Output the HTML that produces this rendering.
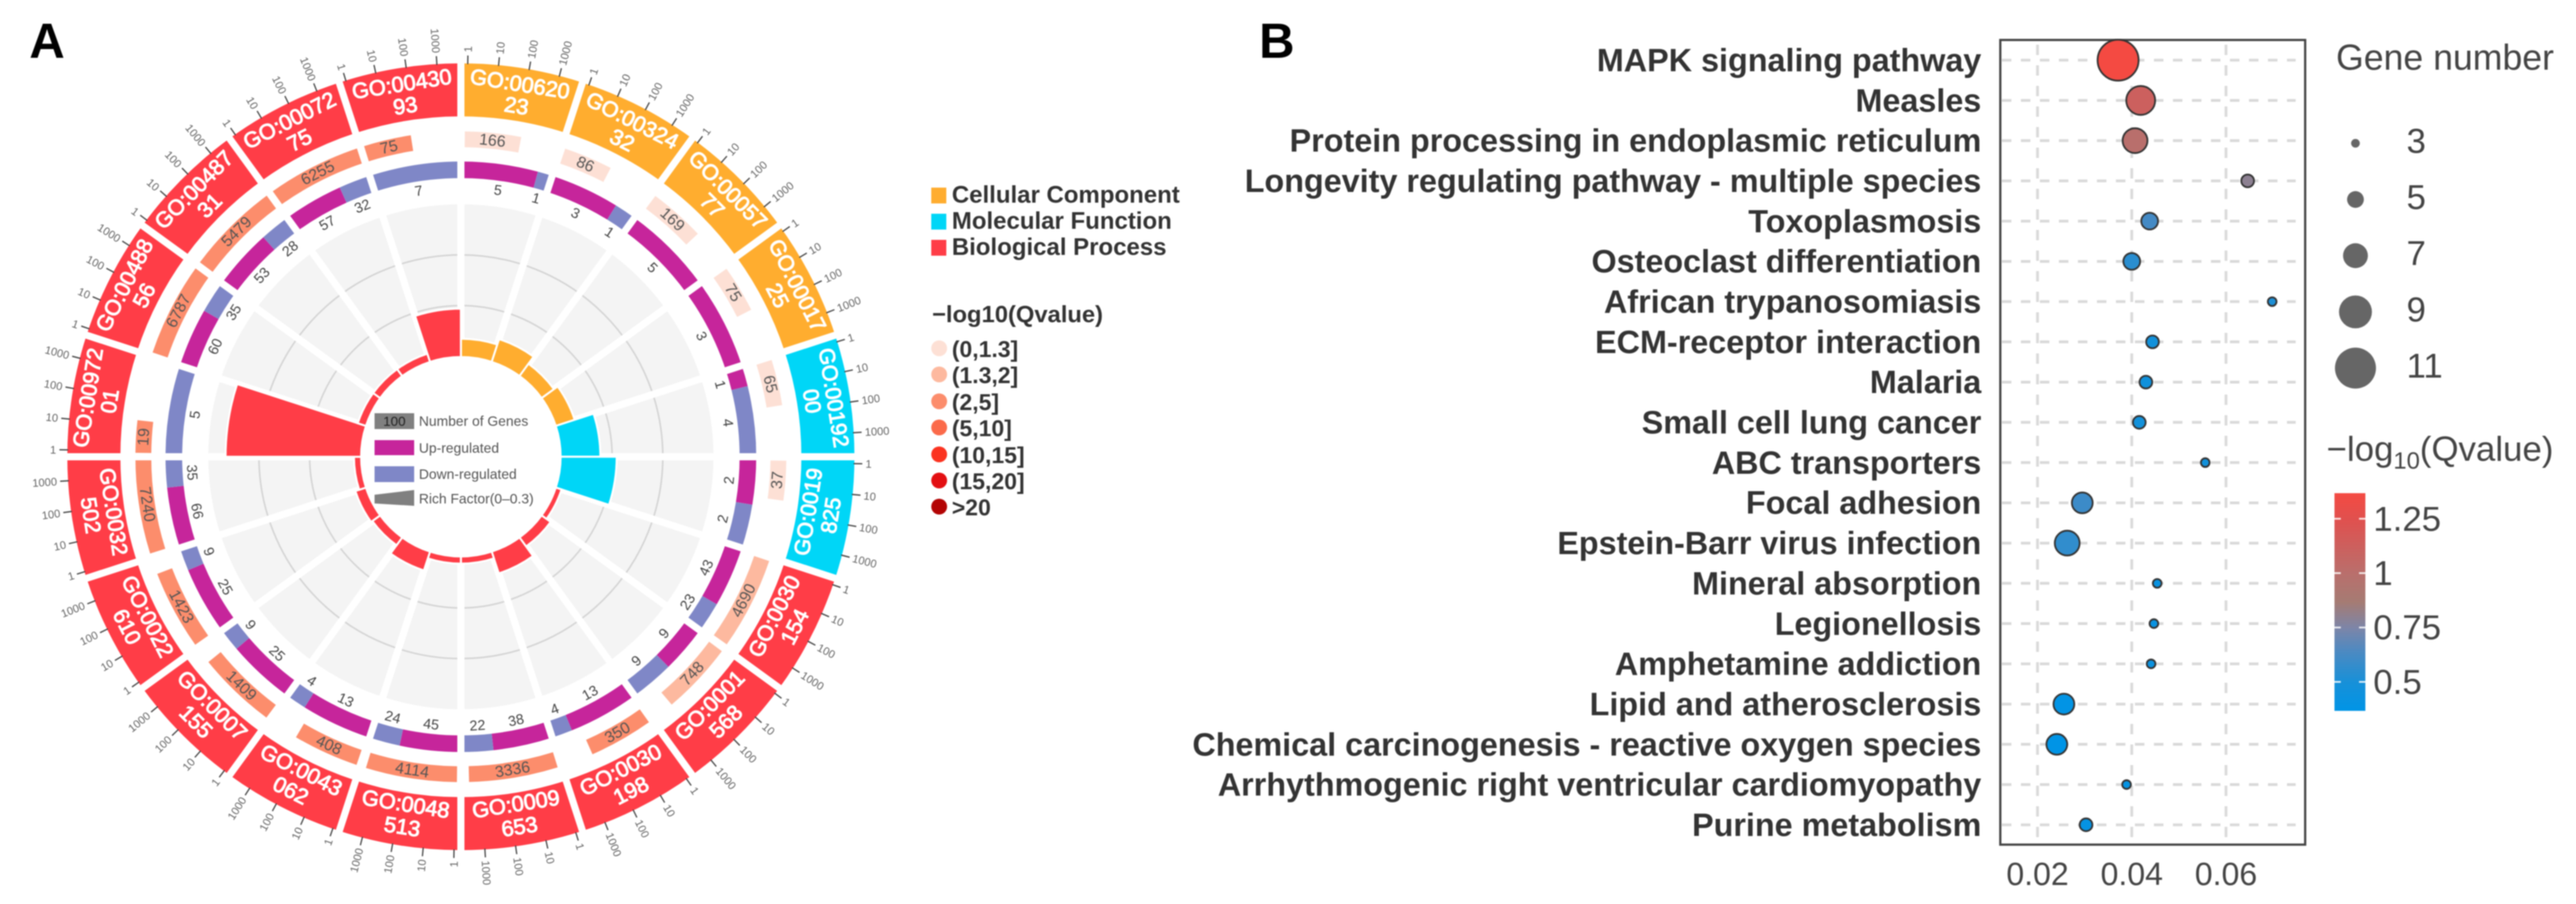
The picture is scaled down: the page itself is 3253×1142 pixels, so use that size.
<!DOCTYPE html>
<html lang="en">
<head>
<meta charset="utf-8">
<title>GO circle plot and KEGG bubble chart</title>
<style>
html,body{margin:0;padding:0;background:#fff;}
svg{display:block;filter:blur(0.9px);}
text{font-family:"Liberation Sans",sans-serif;}
</style>
</head>
<body>
<svg id="fig" xmlns="http://www.w3.org/2000/svg" width="3253" height="1142" viewBox="0 0 3253 1142">
  <defs>
    <linearGradient id="cbGrad" x1="0" y1="1" x2="0" y2="0"></linearGradient>
  </defs>
  <rect x="0" y="0" width="3253" height="1142" fill="#fff"/>
  <text x="37" y="73" font-size="62" font-weight="700" fill="#000">A</text>
  <text x="1590" y="73" font-size="62" font-weight="700" fill="#000">B</text>

  <g id="circle"></g>

  <g>
    <rect x="473" y="522" width="50" height="20" fill="#808080"/>
    <text x="498" y="538" font-size="17" text-anchor="middle" fill="#222">100</text>
    <text x="529" y="538" font-size="17.5" fill="#555">Number of Genes</text>
    <rect x="473" y="556" width="50" height="19" fill="#c6259b"/>
    <text x="529" y="572" font-size="17.5" fill="#555">Up-regulated</text>
    <rect x="473" y="589" width="50" height="20" fill="#7f87c7"/>
    <text x="529" y="605" font-size="17.5" fill="#555">Down-regulated</text>
    <polygon points="473,625 523,619 523,639 473,636" fill="#808080"/>
    <text x="529" y="636" font-size="17.5" fill="#555">Rich Factor(0–0.3)</text>
  </g>

  <g>
    <rect x="1176" y="237" width="19" height="20" fill="#ffad2f"/>
    <text x="1202" y="256" font-size="30.3" font-weight="700" fill="#333">Cellular Component</text>
    <rect x="1176" y="270" width="19" height="20" fill="#00d6f7"/>
    <text x="1202" y="289" font-size="30.3" font-weight="700" fill="#333">Molecular Function</text>
    <rect x="1176" y="303" width="19" height="20" fill="#ff3d47"/>
    <text x="1202" y="322" font-size="30.3" font-weight="700" fill="#333">Biological Process</text>
  </g>

  <g>
    <text x="1177" y="407" font-size="30" font-weight="700" fill="#333">−log10(Qvalue)</text>
    <circle cx="1186" cy="440" r="10" fill="#fde0d5"/>
    <text x="1202" y="451" font-size="29" font-weight="700" fill="#333">(0,1.3]</text>
    <circle cx="1186" cy="473" r="10" fill="#fdb99f"/>
    <text x="1202" y="484" font-size="29" font-weight="700" fill="#333">(1.3,2]</text>
    <circle cx="1186" cy="507" r="10" fill="#fc8d6c"/>
    <text x="1202" y="518" font-size="29" font-weight="700" fill="#333">(2,5]</text>
    <circle cx="1186" cy="540" r="10" fill="#fb6a4a"/>
    <text x="1202" y="551" font-size="29" font-weight="700" fill="#333">(5,10]</text>
    <circle cx="1186" cy="574" r="10" fill="#fb3320"/>
    <text x="1202" y="585" font-size="29" font-weight="700" fill="#333">(10,15]</text>
    <circle cx="1186" cy="607" r="10" fill="#e30f12"/>
    <text x="1202" y="618" font-size="29" font-weight="700" fill="#333">(15,20]</text>
    <circle cx="1186" cy="640" r="10" fill="#b30404"/>
    <text x="1202" y="651" font-size="29" font-weight="700" fill="#333">&gt;20</text>
  </g>

  <g id="bubble"></g>

  <g id="sizeLegend">
    <text x="2950" y="88" font-size="45" fill="#444">Gene number</text>
  </g>

  <g id="colorLegend">
    <text x="2938" y="582" font-size="44" fill="#444">−log<tspan font-size="30" dy="10">10</tspan><tspan dy="-10">(Qvalue)</tspan></text>
    <rect x="2948" y="623" width="39" height="275" fill="url(#cbGrad)"/>
  </g>
</svg>

<script>
// ---------- Panel A data (clockwise from 12 o'clock) ----------
const goLine1 = ["GO:00620","GO:00324","GO:00057","GO:00017","GO:00192","GO:0019","GO:0030","GO:0001","GO:0030","GO:0009","GO:0048","GO:0043","GO:0007","GO:0022","GO:0032","GO:00972","GO:00488","GO:00487","GO:00072","GO:00430"];
const goLine2 = ["23","32","77","25","00","825","154","568","198","653","513","062","155","610","502","01","56","31","75","93"];
const goCategory = ["CC","CC","CC","CC","MF","MF","BP","BP","BP","BP","BP","BP","BP","BP","BP","BP","BP","BP","BP","BP"];
const geneCounts = [166,86,169,75,65,37,4690,748,350,3336,4114,408,1409,1423,7240,19,6787,5479,6255,75];
const qClass = [0,0,0,0,0,0,1,1,2,2,2,2,2,2,2,2,2,2,2,2];
const upCounts = [5,3,5,3,1,2,43,9,13,38,45,13,25,25,66,0,60,53,57,0];
const downCounts = [1,1,0,0,4,2,23,9,4,22,24,4,9,9,35,5,35,28,32,7];
const richFactor = [0.036,0.047,0.03,0.039,0.078,0.11,0.012,0.022,0.045,0.014,0.014,0.039,0.019,0.022,0.014,0.266,0.017,0.017,0.017,0.095];
const tickLabels = ["1","10","100","1000"];

// ---------- Panel B data ----------
const pathways = ["MAPK signaling pathway","Measles","Protein processing in endoplasmic reticulum","Longevity regulating pathway - multiple species","Toxoplasmosis","Osteoclast differentiation","African trypanosomiasis","ECM-receptor interaction","Malaria","Small cell lung cancer","ABC transporters","Focal adhesion","Epstein-Barr virus infection","Mineral absorption","Legionellosis","Amphetamine addiction","Lipid and atherosclerosis","Chemical carcinogenesis - reactive oxygen species","Arrhythmogenic right ventricular cardiomyopathy","Purine metabolism"];
const richRatio = [0.0371,0.0419,0.0407,0.0646,0.0438,0.04,0.0698,0.0444,0.043,0.0416,0.0556,0.0295,0.0263,0.0454,0.0447,0.0441,0.0256,0.0241,0.0389,0.0303];
const geneNumber = [11,8,7,4,5,5,3,4,4,4,3,6,7,3,3,3,6,6,3,4];
const qValue = [1.37,1.12,1.0,0.8,0.62,0.55,0.52,0.47,0.46,0.48,0.47,0.6,0.57,0.42,0.42,0.43,0.38,0.37,0.4,0.4];
const xTicks = [0.02,0.04,0.06];
const xTickLabels = ["0.02","0.04","0.06"];
const sizeLegendValues = [3,5,7,9,11];
const colorTicks = [1.25,1,0.75,0.5];
const colorTickLabels = ["1.25","1","0.75","0.5"];
const rampValues = [0.37,0.5,0.65,0.75,0.87,1.0,1.25,1.37];
const rampColors = ["#0094e6","#1790d8","#4f89c0","#7c85a8","#a57b73","#b96f6c","#e0504e","#f44a42"];

// ---------- helpers ----------
const NS = "http://www.w3.org/2000/svg";
function mk(tag, parent, attrs, txt) {
  const el = document.createElementNS(NS, tag);
  for (const k in attrs) el.setAttribute(k, attrs[k]);
  if (txt !== undefined) el.textContent = txt;
  parent.appendChild(el);
  return el;
}
const cx = 582, cy = 577;
const SECTOR = 360 / goLine1.length;
const catColor = {CC:"#ffad2f", MF:"#00d6f7", BP:"#ff3d47"};
const classColor = ["#fde0d5","#fdb99f","#fc8d6c","#fb6a4a","#fb3320","#e30f12","#b30404"];
function pt(a, r) {
  const t = a * Math.PI / 180;
  return [cx + r * Math.sin(t), cy - r * Math.cos(t)];
}
function wedge(a0, a1, r0, r1) {
  const p = [pt(a0, r1), pt(a1, r1), pt(a1, r0), pt(a0, r0)];
  const lg = (a1 - a0) > 180 ? 1 : 0;
  return "M" + p[0][0] + " " + p[0][1] +
    "A" + r1 + " " + r1 + " 0 " + lg + " 1 " + p[1][0] + " " + p[1][1] +
    "L" + p[2][0] + " " + p[2][1] +
    "A" + r0 + " " + r0 + " 0 " + lg + " 0 " + p[3][0] + " " + p[3][1] + "Z";
}
function tangentRot(a) {
  const n = ((a % 360) + 360) % 360;
  return (n > 90 && n < 270) ? n - 180 : n;
}
function radialText(parent, a, r, txt, size, fill) {
  const p = pt(a, r);
  return mk("text", parent, {
    x: p[0], y: p[1], "font-size": size, fill: fill,
    "text-anchor": "middle", "dominant-baseline": "central",
    transform: "rotate(" + tangentRot(a) + " " + p[0] + " " + p[1] + ")"
  }, txt);
}

// ---------- Panel A ----------
const circle = document.getElementById("circle");
const R_OUT = 497, R_OUT_IN = 430, R2_OUT = 411, R2_IN = 391, R3_OUT = 373, R3_IN = 352, BG_OUT = 319, HOLE = 126;
const richScale = v => HOLE + v / 0.3 * (BG_OUT - HOLE);
const logLen = v => Math.log10(v) * 4.5;

goLine1.forEach((g, i) => {
  const a0 = i * SECTOR, a1 = a0 + SECTOR;
  const bg = mk("path", circle, {d: wedge(a0, a1, HOLE, BG_OUT), fill: "#f4f4f4"});
  
  
});
[191, 255].forEach(r => {
  const c = mk("circle", circle, {cx: cx, cy: cy, r: r, fill: "none", stroke: "#d4d4d4", "stroke-width": 2});
  
  
});

goLine1.forEach((g, i) => {
  const a0 = i * SECTOR, a1 = a0 + SECTOR, mid = a0 + SECTOR / 2;
  // outer category ring
  const seg = mk("path", circle, {d: wedge(a0, a1, R_OUT_IN, R_OUT), fill: catColor[goCategory[i]]});
  
  
  // gene count bar
  const barStart = a0 + 0.7, barEnd = barStart + logLen(geneCounts[i]);
  const bar = mk("path", circle, {d: wedge(barStart, barEnd, R2_IN, R2_OUT), fill: classColor[qClass[i]]});
  
  
  // up / down ring
  const total = upCounts[i] + downCounts[i];
  const usable0 = a0 + 0.7, usable1 = a1;
  const split = usable0 + (usable1 - usable0) * upCounts[i] / total;
  if (upCounts[i] > 0) {
    const up = mk("path", circle, {d: wedge(a0, split, R3_IN, R3_OUT), fill: "#c6259b"});
    
    
  }
  if (downCounts[i] > 0) {
    const down = mk("path", circle, {d: wedge(split, a1, R3_IN, R3_OUT), fill: "#7f87c7"});
    
    
  }
  // ticks
  tickLabels.forEach((t, k) => {
    const ta = a0 + 1 + k * 4.5;
    const p0 = pt(ta, R_OUT - 1), p1 = pt(ta, R_OUT + 10), pl = pt(ta, R_OUT + 14);
    const tick = mk("line", circle, {x1: p0[0], y1: p0[1], x2: p1[0], y2: p1[1], stroke: "#444", "stroke-width": 1.6});
    
    
    const right = ta <= 180;
    const rot = right ? ta - 90 : ta + 90;
    const lab = mk("text", circle, {
      x: pl[0], y: pl[1], "font-size": 14, fill: "#666",
      "text-anchor": right ? "start" : "end", "dominant-baseline": "central",
      transform: "rotate(" + rot + " " + pl[0] + " " + pl[1] + ")"
    }, t);
    
    
  });
});

// white radial separators
goLine1.forEach((g, i) => {
  const a = i * SECTOR;
  const p0 = pt(a, HOLE - 2), p1 = pt(a, R_OUT + 1);
  const sep = mk("line", circle, {x1: p0[0], y1: p0[1], x2: p1[0], y2: p1[1], stroke: "#fff", "stroke-width": 9});
  
  
});

const hole = mk("circle", circle, {cx: cx, cy: cy, r: HOLE, fill: "#fff"});



goLine1.forEach((g, i) => {
  const a0 = i * SECTOR, a1 = a0 + SECTOR, mid = a0 + SECTOR / 2;
  // rich factor wedge
  const w = mk("path", circle, {d: wedge(a0, a1, HOLE, richScale(richFactor[i])), fill: catColor[goCategory[i]], stroke: "#fff", "stroke-width": 2.5});
  
  
  // GO id text
  const lower = mid > 90 && mid < 270;
  const t1 = radialText(circle, mid, lower ? 444 : 477, g, 27.5, "#fff");
  t1.setAttribute("stroke", "#fff");
  t1.setAttribute("stroke-width", "1.1");
  
  
  const t2 = radialText(circle, mid, lower ? 473 : 449, goLine2[i], 27.5, "#fff");
  t2.setAttribute("stroke", "#fff");
  t2.setAttribute("stroke-width", "1.1");
  
  
  // gene count label
  const barMid = a0 + 0.7 + logLen(geneCounts[i]) / 2;
  const gl = radialText(circle, barMid, 401, String(geneCounts[i]), 20, "#555");
  
  
  // up / down labels
  const total = upCounts[i] + downCounts[i];
  const split = a0 + 0.7 + (SECTOR - 0.7) * upCounts[i] / total;
  if (upCounts[i] > 0) {
    const ul = radialText(circle, (a0 + 0.7 + split) / 2, 340, String(upCounts[i]), 18, "#444");
    
    
  }
  if (downCounts[i] > 0) {
    const dl = radialText(circle, (split + a1 - 0.7) / 2, 340, String(downCounts[i]), 18, "#444");
    
    
  }
});

// ---------- Panel B ----------
const bubble = document.getElementById("bubble");
const xScale = v => 2573 + (v - 0.02) / 0.02 * 119;
const yScale = i => 76 + i * 50.84;
const sizeScale = g => 5.5 + 2.55 * (g - 3);
const cbScale = v => 724 + (1 - v) / 0.25 * 68.7;
function hexToRgb(h) { return [1, 3, 5].map(k => parseInt(h.substr(k, 2), 16)); }
function colorOf(v) {
  if (v <= rampValues[0]) return rampColors[0];
  for (let k = 1; k < rampValues.length; k++) {
    if (v <= rampValues[k]) {
      const f = (v - rampValues[k - 1]) / (rampValues[k] - rampValues[k - 1]);
      const a = hexToRgb(rampColors[k - 1]), b = hexToRgb(rampColors[k]);
      return "rgb(" + a.map((c, n) => Math.round(c + (b[n] - c) * f)).join(",") + ")";
    }
  }
  return rampColors[rampColors.length - 1];
}
const PLOT = {l: 2526, r: 2911, t: 50.5, b: 1067};

xTicks.forEach((t, i) => {
  const gl = mk("line", bubble, {x1: xScale(t), x2: xScale(t), y1: PLOT.t + 6, y2: PLOT.b - 4, stroke: "#d9d9d9", "stroke-width": 3.5, "stroke-dasharray": "13 13"});
  
  
  const lb = mk("text", bubble, {x: xScale(t), y: 1118, "font-size": 40.5, "text-anchor": "middle", fill: "#444"}, xTickLabels[i]);
  
  
});
pathways.forEach((p, i) => {
  const gl = mk("line", bubble, {x1: PLOT.l + 2, x2: 2899, y1: yScale(i), y2: yScale(i), stroke: "#d9d9d9", "stroke-width": 3.5, "stroke-dasharray": "12 12"});
  
  
  const lb = mk("text", bubble, {x: 2502, y: yScale(i) + 14, "font-size": 40.85, "font-weight": 700, "text-anchor": "end", fill: "#333"}, p);
  
  
});
const frame = mk("rect", bubble, {x: PLOT.l, y: PLOT.t, width: PLOT.r - PLOT.l, height: PLOT.b - PLOT.t, fill: "none", stroke: "#444", "stroke-width": 2.8});


pathways.forEach((p, i) => {
  const d = mk("circle", bubble, {cx: xScale(richRatio[i]), cy: yScale(i), r: sizeScale(geneNumber[i]), fill: colorOf(qValue[i]), stroke: "#333", "stroke-width": 2.2});
  
  
});

// size legend
const sizeLegend = document.getElementById("sizeLegend");
sizeLegendValues.forEach((g, i) => {
  const yy = 181 + i * 71;
  const c = mk("circle", sizeLegend, {cx: 2974.5, cy: yy, r: sizeScale(g), fill: "#666"});
  
  
  const t = mk("text", sizeLegend, {x: 3039, y: yy + 12, "font-size": 44, fill: "#444"}, String(g));
  
  
});

// colour legend
const grad = document.getElementById("cbGrad");
const cbTop = cbScale(1.37), cbBottom = cbScale(0.37);
rampValues.forEach((v, i) => {
  const s = mk("stop", grad, {offset: (cbBottom - cbScale(v)) / (cbBottom - cbTop), "stop-color": rampColors[i]});
  
  
});
const colorLegend = document.getElementById("colorLegend");
colorTicks.forEach((v, i) => {
  const yy = cbScale(v);
  const a = mk("line", colorLegend, {x1: 2948, x2: 2956, y1: yy, y2: yy, stroke: "#fff", "stroke-width": 2.2, opacity: 0.85});
  
  
  const b = mk("line", colorLegend, {x1: 2979, x2: 2987, y1: yy, y2: yy, stroke: "#fff", "stroke-width": 2.2, opacity: 0.85});
  
  
  const t = mk("text", colorLegend, {x: 2997, y: yy + 15, "font-size": 44, fill: "#444"}, colorTickLabels[i]);
  
  
});
</script>
</body>
</html>
